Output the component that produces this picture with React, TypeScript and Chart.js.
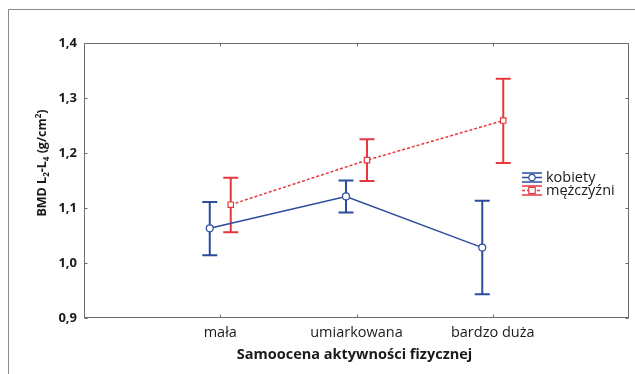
import React, { useEffect, useRef } from "react";
import { Chart, registerables } from "chart.js";

Chart.register(...registerables);

const categories = ["mała", "umiarkowana", "bardzo duża"];
const seriesNames = ["kobiety", "mężczyźni"];
const kobietyMean = [1.063, 1.121, 1.028];
const kobietyLow = [1.014, 1.092, 0.943];
const kobietyHigh = [1.111, 1.15, 1.113];
const mezczyzniMean = [1.106, 1.187, 1.259];
const mezczyzniLow = [1.056, 1.149, 1.182];
const mezczyzniHigh = [1.155, 1.225, 1.335];
const yTicks = [0.9, 1.0, 1.1, 1.2, 1.3, 1.4];
const xTitle = "Samoocena aktywności fizycznej";

const BLUE = "#2d4c9e";
const RED = "#e5383d";
const AXIS = "#6b6b6b";
const FONT = "'Open Sans', sans-serif";
const OFFSET = 0.077;

const fmt = (v: number) => v.toFixed(1).replace(".", ",");

export default function App() {
  const ref = useRef<HTMLCanvasElement>(null);
  useEffect(() => {
    const canvas = ref.current!;
    const errPlugin = {
      id: "errbars",
      beforeDatasetsDraw(chart: any) {
        const ctx = chart.ctx;
        const xs = chart.scales.x;
        const ys = chart.scales.y;
        const groups = [
          { lo: kobietyLow, hi: kobietyHigh, c: BLUE, off: -OFFSET },
          { lo: mezczyzniLow, hi: mezczyzniHigh, c: RED, off: OFFSET },
        ];
        ctx.save();
        for (const g of groups) {
          ctx.strokeStyle = g.c;
          ctx.lineWidth = 2;
          for (let i = 0; i < categories.length; i++) {
            const x = xs.getPixelForValue(i + 1 + g.off);
            const y1 = ys.getPixelForValue(g.lo[i]);
            const y2 = ys.getPixelForValue(g.hi[i]);
            ctx.beginPath();
            ctx.moveTo(x, y1);
            ctx.lineTo(x, y2);
            ctx.moveTo(x - 7.5, y1);
            ctx.lineTo(x + 7.5, y1);
            ctx.moveTo(x - 7.5, y2);
            ctx.lineTo(x + 7.5, y2);
            ctx.stroke();
          }
        }
        ctx.restore();
      },
      afterDraw(chart: any) {
        const ctx = chart.ctx;
        const a = chart.chartArea;
        const xs = chart.scales.x;
        const ys = chart.scales.y;
        ctx.save();
        // outer frame
        ctx.strokeStyle = "#8a8a8a";
        ctx.lineWidth = 1;
        ctx.beginPath();
        ctx.moveTo(8.5, 374);
        ctx.lineTo(8.5, 9.5);
        ctx.lineTo(635, 9.5);
        ctx.stroke();
        // plot frame
        ctx.strokeStyle = AXIS;
        ctx.lineWidth = 1;
        const L = Math.round(a.left) + 0.5;
        const R = Math.round(a.right) - 0.5;
        const T = Math.round(a.top) + 0.5;
        const B = Math.round(a.bottom) - 0.5;
        ctx.strokeRect(L, T, R - L, B - T);
        ctx.beginPath();
        for (const v of yTicks) {
          const y = Math.round(ys.getPixelForValue(v)) + 0.5;
          ctx.moveTo(L, y);
          ctx.lineTo(L + 3, y);
          ctx.moveTo(R, y);
          ctx.lineTo(R - 3, y);
        }
        for (let i = 0; i < categories.length; i++) {
          const x = Math.round(xs.getPixelForValue(i + 1)) + 0.5;
          ctx.moveTo(x, B);
          ctx.lineTo(x, B - 3);
          ctx.moveTo(x, T);
          ctx.lineTo(x, T + 3);
        }
        ctx.stroke();
        // x title
        ctx.fillStyle = "#1a1a1a";
        ctx.font = `bold 14.5px ${FONT}`;
        ctx.textAlign = "center";
        ctx.textBaseline = "middle";
        ctx.fillText(xTitle, (a.left + a.right) / 2 - 2, 355);
        // y title with sub/superscripts
        const parts: [string, number, number][] = [
          ["BMD L", 12.5, 0],
          ["2", 8, 3],
          ["-L", 12.5, 0],
          ["4", 8, 3],
          [" (g/cm", 12.5, 0],
          ["2", 8, -5],
          [")", 12.5, 0],
        ];
        let total = 0;
        for (const p of parts) {
          ctx.font = `bold ${p[1]}px ${FONT}`;
          total += ctx.measureText(p[0]).width;
        }
        ctx.translate(41, 163);
        ctx.rotate(-Math.PI / 2);
        ctx.textAlign = "left";
        ctx.textBaseline = "alphabetic";
        let cx = -total / 2;
        for (const p of parts) {
          ctx.font = `bold ${p[1]}px ${FONT}`;
          ctx.fillText(p[0], cx, 5 + p[2]);
          cx += ctx.measureText(p[0]).width;
        }
        ctx.setTransform(1, 0, 0, 1, 0, 0);
        // legend
        const items = [
          { name: seriesNames[0], c: BLUE, dash: [] as number[], y: 177.5, shape: "circle" },
          { name: seriesNames[1], c: RED, dash: [3, 2], y: 190.5, shape: "rect" },
        ];
        for (const it of items) {
          const x0 = 522;
          const x1 = 542;
          ctx.strokeStyle = it.c;
          ctx.lineWidth = 1.5;
          ctx.setLineDash([]);
          ctx.beginPath();
          ctx.moveTo(x0, it.y - 4.5);
          ctx.lineTo(x1, it.y - 4.5);
          ctx.moveTo(x0, it.y + 4.5);
          ctx.lineTo(x1, it.y + 4.5);
          ctx.stroke();
          ctx.setLineDash(it.dash);
          ctx.beginPath();
          ctx.moveTo(x0, it.y);
          ctx.lineTo(x1, it.y);
          ctx.stroke();
          ctx.setLineDash([]);
          ctx.fillStyle = "#fff";
          ctx.lineWidth = 1.2;
          ctx.beginPath();
          if (it.shape === "circle") ctx.arc(532, it.y, 3.2, 0, Math.PI * 2);
          else ctx.rect(528.8, it.y - 3.2, 6.4, 6.4);
          ctx.fill();
          ctx.stroke();
          ctx.fillStyle = "#1a1a1a";
          ctx.font = `14.5px ${FONT}`;
          ctx.textAlign = "left";
          ctx.textBaseline = "middle";
          ctx.fillText(it.name, 546, it.y);
        }
        ctx.restore();
      },
    };

    const chart = new Chart(canvas, {
      type: "line",
      data: {
        datasets: [
          {
            label: seriesNames[0],
            data: kobietyMean.map((v, i) => ({ x: i + 1 - OFFSET, y: v })),
            borderColor: BLUE,
            borderWidth: 1.5,
            pointStyle: "circle",
            pointRadius: 3.5,
            pointBorderWidth: 1.2,
            pointBackgroundColor: "#fff",
            pointBorderColor: BLUE,
          },
          {
            label: seriesNames[1],
            data: mezczyzniMean.map((v, i) => ({ x: i + 1 + OFFSET, y: v })),
            borderColor: RED,
            borderWidth: 1.5,
            borderDash: [3, 2],
            pointStyle: "rect",
            pointRadius: 3.8,
            pointBorderWidth: 1.2,
            pointBackgroundColor: "#fff",
            pointBorderColor: RED,
          },
        ],
      },
      options: {
        responsive: false,
        animation: false,
        events: [],
        layout: { padding: { top: 43, right: 6, left: 0, bottom: 0 } },
        plugins: { legend: { display: false }, tooltip: { enabled: false } },
        scales: {
          x: {
            type: "linear",
            min: 0,
            max: 4,
            afterFit: (s: any) => {
              s.height = 56;
            },
            afterBuildTicks: (s: any) => {
              s.ticks = [0, 1, 2, 3, 4].map((v) => ({ value: v }));
            },
            grid: { display: false, drawTicks: false },
            border: { display: false },
            ticks: {
              autoSkip: false,
              maxRotation: 0,
              padding: 6,
              color: "#1a1a1a",
              font: { family: FONT, size: 14.5 },
              callback: (v: any) => (v >= 1 && v <= 3 ? categories[v - 1] : ""),
            },
          },
          y: {
            min: 0.9,
            max: 1.4,
            afterFit: (s: any) => {
              s.width = 84;
            },
            afterBuildTicks: (s: any) => {
              s.ticks = yTicks.map((v) => ({ value: v }));
            },
            grid: { display: false, drawTicks: false },
            border: { display: false },
            ticks: {
              padding: 7,
              color: "#1a1a1a",
              font: { family: FONT, size: 13, weight: "bold" },
              callback: (v: any) => fmt(Number(v)),
            },
          },
        },
      },
      plugins: [errPlugin],
    } as any);
    return () => chart.destroy();
  }, []);
  return (
    <canvas
      ref={ref}
      width={635}
      height={374}
      style={{ position: "fixed", left: 0, top: 0, width: 635, height: 374, background: "#fff" }}
    />
  );
}
